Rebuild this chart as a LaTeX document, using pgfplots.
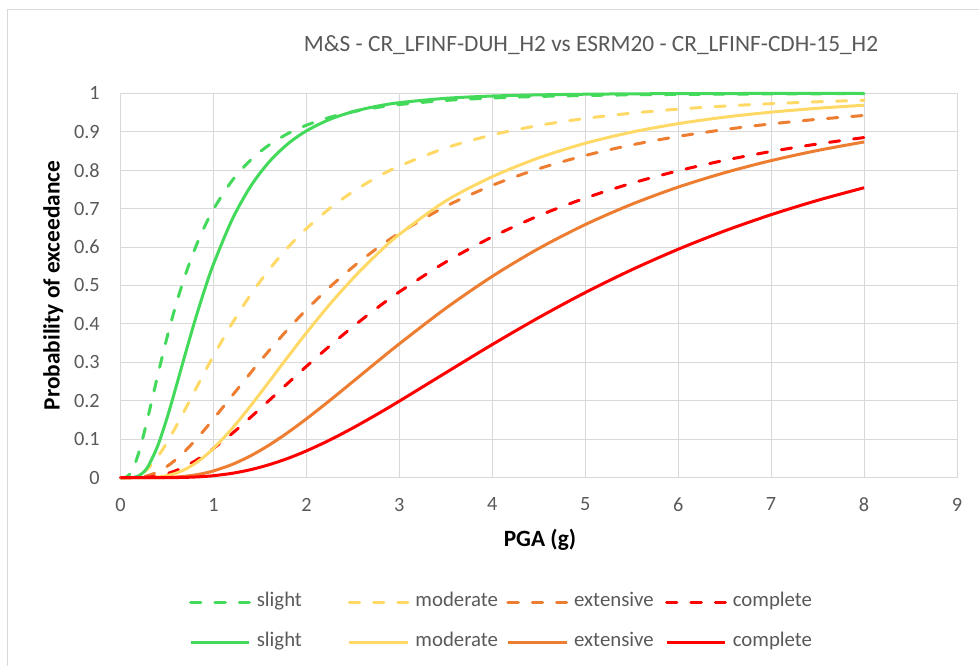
\documentclass[border=0pt]{standalone}
\usepackage{pgfplots}
\usepackage{pgfplotstable}
\pgfplotsset{compat=1.18}
\usepackage{fontspec}
\setmainfont{Carlito}
\definecolor{cgreen}{RGB}{67,217,91}
\definecolor{cyellow}{RGB}{255,217,102}
\definecolor{corange}{RGB}{237,125,49}
\definecolor{cred}{RGB}{255,0,0}
\definecolor{cgrid}{RGB}{217,217,217}
\definecolor{ctext}{RGB}{89,89,89}

\pgfplotstableread{
x     dg     sg     dy     do     dr     sy     so     sr
0     0      0      0      0      0      0      0      0
0.05  0.0006 0      0      0      0      0      0      0
0.1   0.0092 0.0001 0.0005 0      0      0      0      0
0.15  0.0320 0.0013 0.0024 0.0003 0      0      0      0
0.2   0.0678 0.0055 0.0069 0.0012 0.0003 0      0      0
0.25  0.1125 0.0149 0.0144 0.0029 0.0007 0.0001 0      0
0.3   0.1622 0.0309 0.0249 0.0057 0.0016 0.0004 0      0
0.4   0.2657 0.0826 0.0540 0.0150 0.0048 0.0018 0.0002 0
0.5   0.3643 0.1548 0.0916 0.0293 0.0105 0.0054 0.0007 0.0001
0.6   0.4526 0.2382 0.1343 0.0481 0.0188 0.0120 0.0018 0.0004
0.7   0.5293 0.3244 0.1798 0.0707 0.0298 0.0224 0.0039 0.0009
0.8   0.5950 0.4080 0.2263 0.0962 0.0432 0.0366 0.0070 0.0018
0.9   0.6508 0.4854 0.2723 0.1237 0.0587 0.0546 0.0116 0.0032
1.0   0.6983 0.5553 0.3171 0.1527 0.0761 0.0761 0.0176 0.0052
1.2   0.7726 0.6710 0.4011 0.2128 0.1148 0.1276 0.0343 0.0114
1.4   0.8264 0.7580 0.4760 0.2729 0.1572 0.1870 0.0570 0.0209
1.6   0.8658 0.8218 0.5417 0.3310 0.2012 0.2502 0.0850 0.0339
1.8   0.8951 0.8684 0.5987 0.3859 0.2457 0.3142 0.1174 0.0502
2.0   0.9170 0.9022 0.6480 0.4371 0.2895 0.3767 0.1531 0.0697
2.25  0.9374 0.9320 0.7004 0.4956 0.3425 0.4506 0.2006 0.0978
2.5   0.9520 0.9522 0.7440 0.5480 0.3927 0.5183 0.2499 0.1294
2.75  0.9628 0.9660 0.7803 0.5948 0.4397 0.5791 0.2995 0.1635
3     0.9708 0.9756 0.8107 0.6363 0.4834 0.6330 0.3483 0.1992
3.5   0.9815 0.9870 0.8579 0.7059 0.5611 0.7200 0.4408 0.2731
4     0.9878 0.9929 0.8917 0.7606 0.6265 0.7830 0.5238 0.3465
4.5   0.9918 0.9959 0.9164 0.8038 0.6815 0.8320 0.5963 0.4165
5     0.9943 0.9976 0.9346 0.8382 0.7274 0.8700 0.6585 0.4816
5.5   0.9960 0.9986 0.9483 0.8657 0.7660 0.8990 0.7113 0.5409
6     0.9971 0.9991 0.9588 0.8878 0.7984 0.9210 0.7560 0.5943
6.5   0.9979 0.9994 0.9668 0.9057 0.8257 0.9380 0.7934 0.6420
7     0.9984 0.9996 0.9730 0.9204 0.8487 0.9510 0.8249 0.6842
7.5   0.9988 0.9998 0.9779 0.9324 0.8682 0.9610 0.8513 0.7215
8     0.9991 0.9998 0.9818 0.9423 0.8849 0.9690 0.8734 0.7543
}\curves

\begin{document}
\begin{tikzpicture}
\path[use as bounding box] (-90.375pt,-140.475pt) rectangle (643.875pt,358.275pt);
\draw[cgrid, line width=0.75pt] (-84.4pt,-160pt) -- (-84.4pt,351.5pt) -- (670pt,351.5pt);
\begin{axis}[
  at={(0pt,0pt)}, anchor=south west,
  scale only axis, width=627.4pt, height=288.3pt,
  xmin=0, xmax=9, ymin=0, ymax=1,
  xtick={0,1,2,3,4,5,6,7,8,9},
  ytick={0,0.1,0.2,0.3,0.4,0.5,0.6,0.7,0.8,0.9,1},
  grid=major, grid style={cgrid, line width=0.75pt},
  axis line style={cgrid, line width=0.75pt},
  major tick length=0pt,
  clip=false,
  /pgf/number format/assume math mode=true,
  /pgf/number format/fixed,
  /pgf/number format/precision=1,
  tick label style={font=\fontsize{15.2}{18}\selectfont, text=ctext},
  xticklabel style={inner sep=0pt, anchor=north, yshift=-15pt},
  yticklabel style={inner sep=0pt, anchor=east, xshift=-15.4pt},
  every axis plot/.append style={line width=2.25pt, line join=round},
  dsh/.style={dash pattern=on 7.75pt off 10.5pt, line cap=round},
  legend columns=4,
  legend image code/.code={\draw[#1] (0pt,0pt) -- (44pt,0pt);},
  legend style={at={(axis description cs:0.4614,-0.3754)}, anchor=center,
    draw=none, fill=none, font=\fontsize{15.6}{18}\selectfont, text=ctext,
    nodes={inner sep=0pt, text width=68.25pt, align=left, text height=10pt, text depth=3pt},
    /tikz/every odd column/.append style={column sep=4.5pt},
    /tikz/every even column/.append style={column sep=0pt},
    /tikz/row sep=17pt},
]
\addplot[cgreen, dsh, smooth] table[x=x, y=dg] {\curves};
\addlegendentry{slight}
\addplot[cyellow, dsh, smooth] table[x=x, y=dy] {\curves};
\addlegendentry{moderate}
\addplot[corange, dsh, smooth] table[x=x, y=do] {\curves};
\addlegendentry{extensive}
\addplot[cred, dsh, smooth] table[x=x, y=dr] {\curves};
\addlegendentry{complete}
\addplot[cgreen, smooth] table[x=x, y=sg] {\curves};
\addlegendentry{slight}
\addplot[cyellow, smooth] table[x=x, y=sy] {\curves};
\addlegendentry{moderate}
\addplot[corange, smooth] table[x=x, y=so] {\curves};
\addlegendentry{extensive}
\addplot[cred, smooth] table[x=x, y=sr] {\curves};
\addlegendentry{complete}
\end{axis}
\node[font=\fontsize{17.5}{21}\selectfont, text=ctext] at (352.9pt,324.5pt)
  {M\&S - CR\_LFINF-DUH\_H2 vs ESRM20 - CR\_LFINF-CDH-15\_H2};
\node[font=\bfseries\fontsize{17.5}{21}\selectfont, rotate=90] at (-50.4pt,144.15pt)
  {Probability of exceedance};
\node[font=\bfseries\fontsize{17.5}{21}\selectfont] at (314.6pt,-46.7pt) {PGA (g)};
\end{tikzpicture}
\end{document}
